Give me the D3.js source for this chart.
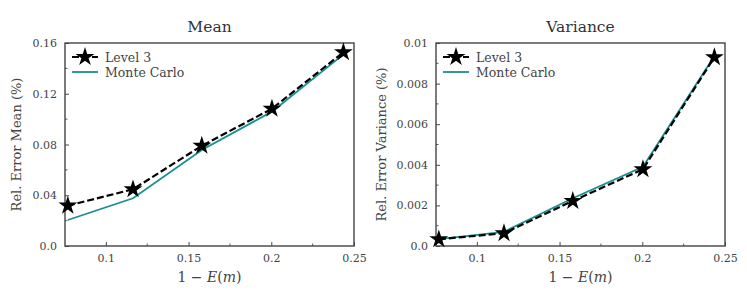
<!DOCTYPE html>
<html>
<head>
<meta charset="utf-8">
<script src="https://cdn.jsdelivr.net/npm/d3@7"></script>
<style>
  body { margin: 0; background: #fff; }
</style>
</head>
<body>
<div id="chart"></div>
<script>
// values
var xVals = [0.077, 0.1164, 0.158, 0.2004, 0.2436];
var meanLevel3 = [0.0318, 0.0447, 0.079, 0.1082, 0.1527];
var meanMC = [0.0205, 0.0376, 0.0757, 0.1059, 0.151];
var varLevel3 = [0.00033, 0.00063, 0.00222, 0.00378, 0.0093];
var varMC = [0.00034, 0.0007, 0.00235, 0.0039, 0.00936];
var xTicks = [0.1, 0.15, 0.2, 0.25];
var xTickLabels = ["0.1", "0.15", "0.2", "0.25"];
var meanTicks = [0, 0.04, 0.08, 0.12, 0.16];
var meanTickLabels = ["0.0", "0.04", "0.08", "0.12", "0.16"];
var varTicks = [0, 0.002, 0.004, 0.006, 0.008, 0.01];
var varTickLabels = ["0.0", "0.002", "0.004", "0.006", "0.008", "0.01"];

var W = 747, H = 293;
var teal = "#17908f";
var FONT = "'DejaVu Serif', serif";

var svg = d3.select("#chart").append("svg")
    .attr("width", W).attr("height", H)
    .attr("font-family", FONT);

function panel(opts) {
    var left = opts.left, top = 43, w = 289, h = 203;
    var g = svg.append("g").attr("transform", "translate(" + left + "," + top + ")");

    var x = d3.scaleLinear().domain([0.0753, 0.25]).range([0, w]);
    var y = d3.scaleLinear().domain([0, opts.ymax]).range([h, 0]);

    // minor ticks
    var xMinor = [0.125, 0.175, 0.225];
    g.selectAll(".xminor").data(xMinor).enter().append("line")
        .attr("x1", d => x(d)).attr("x2", d => x(d))
        .attr("y1", h).attr("y2", h - 2.5)
        .attr("stroke", "#333").attr("stroke-width", 0.8);
    g.selectAll(".yminor").data(opts.yMinor).enter().append("line")
        .attr("x1", 0).attr("x2", 2.5)
        .attr("y1", d => y(d)).attr("y2", d => y(d))
        .attr("stroke", "#333").attr("stroke-width", 0.8);

    var xAxis = d3.axisBottom(x).tickValues(xTicks)
        .tickFormat((d, i) => xTickLabels[i]).tickSizeInner(-4).tickSizeOuter(0).tickPadding(8);
    var gx = g.append("g").attr("transform", "translate(0," + h + ")").call(xAxis);
    var yAxis = d3.axisLeft(y).tickValues(opts.yTicks)
        .tickFormat((d, i) => opts.yLabels[i]).tickSizeInner(-4).tickSizeOuter(0).tickPadding(8);
    var gy = g.append("g").call(yAxis);
    [gx, gy].forEach(function(a) {
        a.attr("font-family", FONT);
        a.select(".domain").remove();
        a.selectAll(".tick line").attr("stroke", "#333").attr("stroke-width", 0.9);
        a.selectAll(".tick text").attr("font-size", 11).attr("fill", "#444");
    });

    // frame
    g.append("rect").attr("width", w).attr("height", h)
        .attr("fill", "none").attr("stroke", "#444").attr("stroke-width", 1.4);

    var line = d3.line().x(d => x(d[0])).y(d => y(d[1]));
    var mc = d3.zip(xVals, opts.mc);
    var l3 = d3.zip(xVals, opts.l3);

    g.append("path").datum(mc).attr("d", line)
        .attr("fill", "none").attr("stroke", teal).attr("stroke-width", 1.8);
    g.append("path").datum(l3).attr("d", line)
        .attr("fill", "none").attr("stroke", "#000").attr("stroke-width", 2.2)
        .attr("stroke-dasharray", "7,3");

    var star = d3.symbol().type(d3.symbolStar).size(110);
    g.selectAll(".star").data(l3).enter().append("path")
        .attr("d", star)
        .attr("transform", d => "translate(" + x(d[0]) + "," + y(d[1]) + ")")
        .attr("fill", "#000");

    // legend
    var lg = g.append("g").attr("transform", "translate(7,14)");
    lg.append("line").attr("x1", 0).attr("x2", 26).attr("y1", 0).attr("y2", 0)
        .attr("stroke", "#000").attr("stroke-width", 2.2).attr("stroke-dasharray", "7,3");
    lg.append("path").attr("d", star).attr("transform", "translate(13,0)").attr("fill", "#000");
    lg.append("text").attr("x", 33).attr("y", 4.5).attr("font-size", 12.5).attr("fill", "#444").text("Level 3");
    lg.append("line").attr("x1", 0).attr("x2", 26).attr("y1", 15).attr("y2", 15)
        .attr("stroke", teal).attr("stroke-width", 1.8);
    lg.append("text").attr("x", 33).attr("y", 19.5).attr("font-size", 12.5).attr("fill", "#444").text("Monte Carlo");

    // title
    g.append("text").attr("x", w / 2).attr("y", -11).attr("text-anchor", "middle")
        .attr("font-size", 15.5).attr("fill", "#333").text(opts.title);

    // x label
    var xl = g.append("text").attr("x", w / 2).attr("y", h + 36).attr("text-anchor", "middle")
        .attr("font-size", 14).attr("fill", "#444");
    xl.append("tspan").text("1 \u2212 ");
    xl.append("tspan").attr("font-style", "italic").text("E");
    xl.append("tspan").text("(");
    xl.append("tspan").attr("font-style", "italic").text("m");
    xl.append("tspan").text(")");

    // y label
    g.append("text").attr("transform", "translate(" + opts.ylabX + "," + (h / 2) + ") rotate(-90)")
        .attr("text-anchor", "middle").attr("font-size", 13).attr("fill", "#444").text(opts.ylabel);
}

panel({
    left: 65, title: "Mean", ymax: 0.16,
    yTicks: meanTicks, yLabels: meanTickLabels, yMinor: [0.02, 0.06, 0.1, 0.14],
    l3: meanLevel3, mc: meanMC, ylabel: "Rel. Error Mean (%)", ylabX: -44
});
panel({
    left: 436, title: "Variance", ymax: 0.01,
    yTicks: varTicks, yLabels: varTickLabels, yMinor: [0.001, 0.003, 0.005, 0.007, 0.009],
    l3: varLevel3, mc: varMC, ylabel: "Rel. Error Variance (%)", ylabX: -50
});
</script>
</body>
</html>
